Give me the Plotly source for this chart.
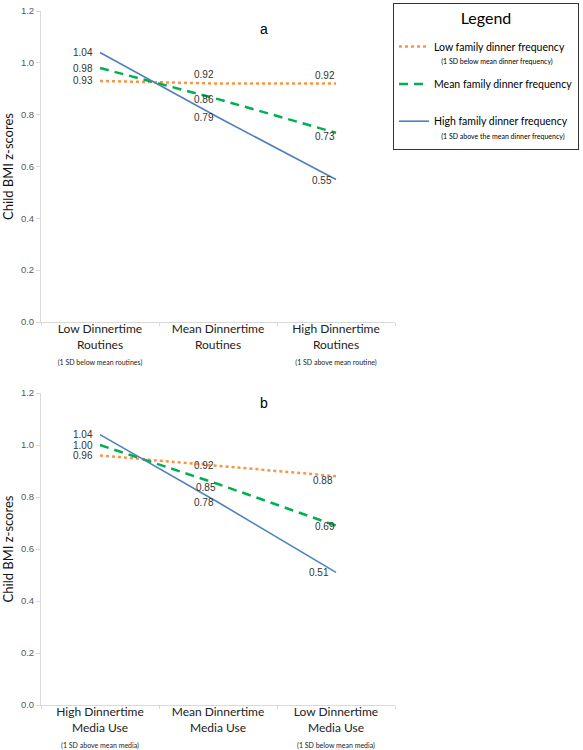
import plotly.graph_objects as go

# ---------------- data ----------------
cats_a = ["Low Dinnertime Routines", "Mean Dinnertime Routines", "High Dinnertime Routines"]
ticks_a = [
    "Low Dinnertime<br>Routines<br><span style='font-size:7px'>(1 SD below mean routines)</span>",
    "Mean Dinnertime<br>Routines<br> ",
    "High Dinnertime<br>Routines<br><span style='font-size:7px'>(1 SD above mean routine)</span>",
]
cats_b = ["High Dinnertime Media Use", "Mean Dinnertime Media Use", "Low Dinnertime Media Use"]
ticks_b = [
    "High Dinnertime<br>Media Use<br><span style='font-size:7px'>(1 SD above mean media)</span>",
    "Mean Dinnertime<br>Media Use<br> ",
    "Low Dinnertime<br>Media Use<br><span style='font-size:7px'>(1 SD below mean media)</span>",
]

low_a = [0.93, 0.92, 0.92]
mean_a = [0.98, 0.86, 0.73]
high_a = [1.04, 0.79, 0.55]

low_b = [0.96, 0.92, 0.88]
mean_b = [1.00, 0.85, 0.69]
high_b = [1.04, 0.78, 0.51]

series_names = [
    "Low family dinner frequency<br><span style='font-size:7px'>    (1 SD below mean dinner frequency)</span>",
    "Mean family dinner frequency<br><span style='font-size:7px'> </span>",
    "High family dinner frequency<br><span style='font-size:7px'>    (1 SD above the mean dinner frequency)</span>",
]

# ---------------- styles ----------------
colors = ["#F79646", "#00B050", "#4F81BD"]
dashes = ["dot", "9px,6px", "solid"]
widths = [2.5, 2.5, 1.6]
# label offsets (px) for mid and right points, per series: (xshift, yshift)
lab_off_a = [[(-14, 9), (-11, 8)], [(-14, 0), (-11, -4)], [(-14, 0), (-14, -1)]]
lab_off_b = [[(-14, 0), (-13, -4)], [(-12, -3), (-11, -1)], [(-14, 0), (-17, 0)]]

fig = go.Figure()

panels = [
    ("x", "y", cats_a, [low_a, mean_a, high_a], lab_off_a, True),
    ("x2", "y2", cats_b, [low_b, mean_b, high_b], lab_off_b, False),
]

label_font = dict(family="Liberation Sans", size=10, color="#333333")
annotations = []
for xr, yr, cats, series, offs, show in panels:
    for i, vals in enumerate(series):
        fig.add_trace(go.Scatter(
            x=cats, y=vals, mode="lines", xaxis=xr, yaxis=yr,
            name=series_names[i], legendgroup=f"g{i}", showlegend=show,
            line=dict(color=colors[i], dash=dashes[i], width=widths[i]),
            hoverinfo="skip",
        ))
        # left label
        annotations.append(dict(
            x=cats[0], y=vals[0], xref=xr, yref=yr, text=f"{vals[0]:.2f}",
            showarrow=False, xanchor="right", xshift=-5, font=label_font))
        for j in (1, 2):
            xs, ys = offs[i][j - 1]
            annotations.append(dict(
                x=cats[j], y=vals[j], xref=xr, yref=yr, text=f"{vals[j]:.2f}",
                showarrow=False, xanchor="center", xshift=xs, yshift=ys, font=label_font))

W, H = 583, 750
xdom = [41 / W, 395 / W]
ydom_a = [1 - 322 / H, 1 - 11 / H]
ydom_b = [1 - 705 / H, 1 - 393 / H]

axis_line = "#D9D9D9"
common_x = dict(type="category", showline=True, linecolor=axis_line, linewidth=1,
                ticks="outside", tickson="boundaries", ticklen=3, tickcolor=axis_line,
                ticklabelstandoff=-4,
                showgrid=False, zeroline=False, range=[-0.5, 2.5], automargin=False,
                tickfont=dict(family="Lato", size=12, color="#222222"), domain=xdom)
common_y = dict(range=[0, 1.2], dtick=0.2, tickformat=".1f", showline=True,
                linecolor=axis_line, linewidth=1, ticks="outside", ticklen=4,
                tickcolor=axis_line, showgrid=False, zeroline=False, automargin=False,
                tickfont=dict(family="Liberation Sans", size=9.5, color="#595959"),
                title=dict(text="Child BMI z-scores", standoff=8,
                           font=dict(family="Lato", size=13, color="#111111")))

annotations.append(dict(x=264 / W, y=1 - 19 / H, xref="paper", yref="paper", text="a",
                        showarrow=False, font=dict(family="Liberation Sans", size=14, color="black")))
annotations.append(dict(x=264 / W, y=1 - 403 / H, xref="paper", yref="paper", text="b",
                        showarrow=False, font=dict(family="Liberation Sans", size=14, color="black")))

fig.update_layout(
    width=W, height=H,
    margin=dict(l=0, r=0, t=0, b=0, autoexpand=False),
    paper_bgcolor="white", plot_bgcolor="white",
    xaxis=dict(common_x, anchor="y", tickvals=cats_a, ticktext=ticks_a),
    yaxis=dict(common_y, anchor="x", domain=ydom_a),
    xaxis2=dict(common_x, anchor="y2", tickvals=cats_b, ticktext=ticks_b),
    yaxis2=dict(common_y, anchor="x2", domain=ydom_b),
    legend=dict(
        x=393 / W, y=1 - 3 / H, xanchor="left", yanchor="top",
        bgcolor="white", bordercolor="#333333", borderwidth=1,
        title=dict(text="<span style='font-size:7px'> </span><br>"
                        "<span style='font-size:16px'>Legend</span><br>"
                        "<span style='font-size:7px'> </span>",
                   side="top center",
                   font=dict(family="Lato", size=7.5, color="black")),
        font=dict(family="Lato", size=10.5, color="black"),
        valign="top", tracegroupgap=7, itemwidth=30,
        entrywidth=160, entrywidthmode="pixels",
    ),
    annotations=annotations,
    showlegend=True,
)

fig.write_html("out.html", config={"displayModeBar": False},
               post_script="document.body.style.margin='0px';")
